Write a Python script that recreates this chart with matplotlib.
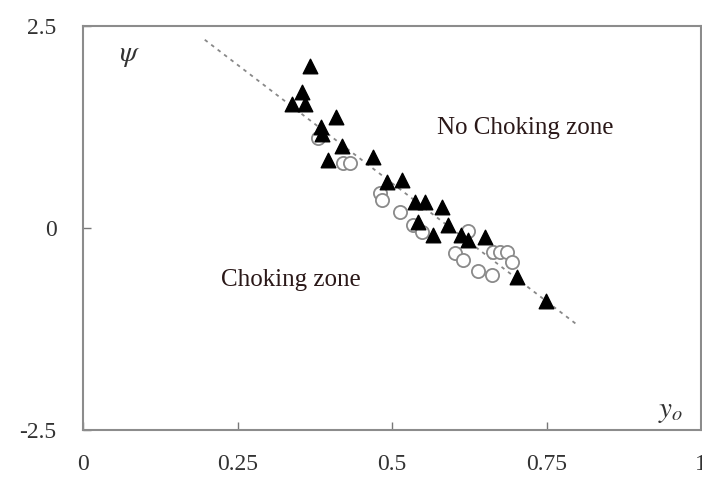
import numpy as np
from matplotlib import pyplot as plt

# measured points, filled triangles
triX = [0.367, 0.354, 0.338, 0.359, 0.409, 0.385, 0.387, 0.419, 0.396, 0.469,
        0.492, 0.516, 0.537, 0.553, 0.581, 0.542, 0.591, 0.566, 0.612, 0.623,
        0.650, 0.702, 0.749]
triY = [2.00, 1.68, 1.53, 1.53, 1.37, 1.25, 1.16, 1.01, 0.84, 0.88,
        0.57, 0.59, 0.32, 0.32, 0.26, 0.07, 0.04, -0.09, -0.09, -0.15,
        -0.11, -0.61, -0.90]

# measured points, open circles
circX = [0.380, 0.421, 0.432, 0.481, 0.484, 0.513, 0.534, 0.549, 0.623, 0.602,
         0.615, 0.639, 0.662, 0.663, 0.675, 0.686, 0.694]
circY = [1.11, 0.80, 0.80, 0.43, 0.35, 0.20, 0.04, -0.05, -0.04, -0.31,
         -0.40, -0.53, -0.58, -0.30, -0.30, -0.30, -0.42]

# trend line end points
lineX = [0.197, 0.80]
lineY = [2.33, -1.20]

xTicks = [0, 0.25, 0.5, 0.75, 1]
xTickLabels = ['0', '0.25', '0.5', '0.75', '1']
yTicks = [-2.5, 0, 2.5]
yTickLabels = ['-2.5', '0', '2.5']

plt.rcParams['font.family'] = ['Liberation Serif', 'DejaVu Serif']
plt.rcParams['mathtext.fontset'] = 'stix'

fig = plt.figure(figsize=(7.02, 4.83), dpi=100)
ax = fig.add_axes([83/702, 53/483, 618/702, 404/483])

ax.plot(lineX, lineY, color='#888888', lw=1.3, linestyle=(0, (2, 2.5)), zorder=1)
ax.scatter(circX, circY, s=90, facecolors='white', edgecolors='#8a8a8a',
           linewidths=1.3, marker='o', zorder=2)
ax.scatter(triX, triY, s=110, color='black', marker='^', zorder=3)

ax.set_xlim(0, 1)
ax.set_ylim(-2.5, 2.5)
ax.set_xticks(xTicks)
ax.set_xticklabels(xTickLabels)
ax.set_yticks(yTicks)
ax.set_yticklabels(yTickLabels)
ax.tick_params(direction='in', length=6, width=1, color='#777777',
               labelsize=17, labelcolor='#333333')
ax.tick_params(axis='x', pad=17)
ax.tick_params(axis='y', pad=19)
for spine in ax.spines.values():
    spine.set_color('#8c8c8c')
    spine.set_linewidth(1.5)

ax.text(0.075, 0.925, r'$\psi$', transform=ax.transAxes, fontsize=21,
        color='#333333', ha='center', va='center')
ax.text(0.95, 0.045, r'$y_o$', transform=ax.transAxes, fontsize=21,
        color='#333333', ha='center', va='center')
ax.text(0.715, 0.748, 'No Choking zone', transform=ax.transAxes, fontsize=18,
        color='#2a1818', ha='center', va='center')
ax.text(0.337, 0.371, 'Choking zone', transform=ax.transAxes, fontsize=18,
        color='#2a1818', ha='center', va='center')

plt.savefig('out.png', dpi=100)
